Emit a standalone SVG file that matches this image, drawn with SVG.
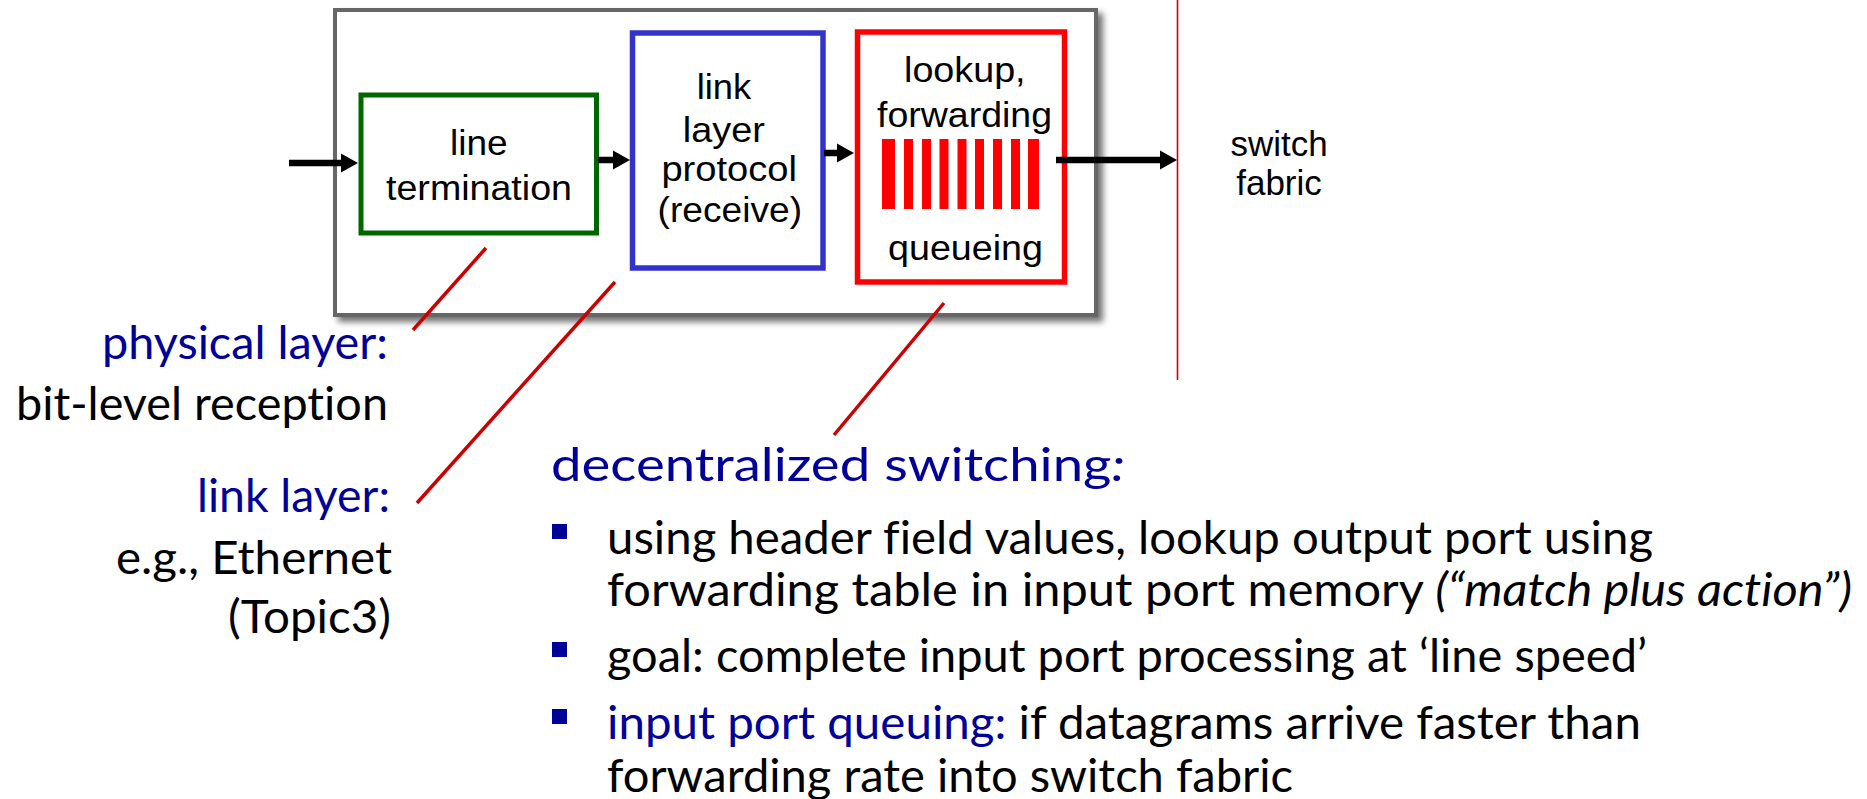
<svg xmlns="http://www.w3.org/2000/svg" width="1867" height="799" viewBox="0 0 1867 799">
  <style>
    .box { font-family: "Liberation Sans", Arial, sans-serif; font-size: 35px; fill: #000; }
    .cal { font-family: Lato, "Noto Sans", sans-serif; font-size: 47px; fill: #000; font-variant-ligatures: none; }
    .blue { fill: #000099; }
    .it { font-style: italic; }
    .leader { stroke: #cc0000; stroke-width: 3.5; fill: none; }
    .arrow { stroke: #000; stroke-width: 6.5; fill: none; marker-end: url(#ah); }
    .bar { fill: #ff0000; }
  </style>
  <defs>
    <marker id="ah" markerUnits="userSpaceOnUse" markerWidth="18" markerHeight="20" refX="1" refY="9.5" orient="auto" overflow="visible">
      <path d="M0,0 L17,9.5 L0,19 Z" fill="#000"/>
    </marker>
    <filter id="shadow" x="-5%" y="-5%" width="115%" height="120%">
      <feDropShadow dx="5" dy="5" stdDeviation="3" flood-color="#000" flood-opacity="0.55"/>
    </filter>
  </defs>
  <rect width="1867" height="799" fill="#fff"/>

  <g id="input-port">
    <rect x="335" y="10" width="761" height="305" fill="#fff" stroke="#666" stroke-width="4" filter="url(#shadow)"/>
  </g>

  <g id="line-termination">
    <rect x="361" y="95" width="235.5" height="138" fill="#fff" stroke="#006600" stroke-width="5"/>
    <text class="box" x="450" y="155" textLength="57.6" lengthAdjust="spacingAndGlyphs">line</text>
    <text class="box" x="386" y="200" textLength="186" lengthAdjust="spacingAndGlyphs">termination</text>
  </g>

  <g id="link-layer-protocol">
    <rect x="632.5" y="33" width="190.5" height="235" fill="#fff" stroke="#3333cc" stroke-width="5.5"/>
    <text class="box" x="696.7" y="99" textLength="54.6" lengthAdjust="spacingAndGlyphs">link</text>
    <text class="box" x="682.8" y="141.7" textLength="82" lengthAdjust="spacingAndGlyphs">layer</text>
    <text class="box" x="661.4" y="181" textLength="135.6" lengthAdjust="spacingAndGlyphs">protocol</text>
    <text class="box" x="657.6" y="221.7" textLength="144.4" lengthAdjust="spacingAndGlyphs">(receive)</text>
  </g>

  <g id="lookup-forwarding-queueing">
    <rect x="857.5" y="32" width="207" height="250" fill="#fff" stroke="#ff0000" stroke-width="5.5"/>
    <text class="box" x="904" y="81.7" textLength="121.6" lengthAdjust="spacingAndGlyphs">lookup,</text>
    <text class="box" x="877" y="126.7" textLength="175" lengthAdjust="spacingAndGlyphs">forwarding</text>
    <rect class="bar" x="882" y="139" width="13" height="70"/>
    <rect class="bar" x="904" y="139" width="9" height="70"/>
    <rect class="bar" x="922" y="139" width="9" height="70"/>
    <rect class="bar" x="939.5" y="139" width="9" height="70"/>
    <rect class="bar" x="957.5" y="139" width="9" height="70"/>
    <rect class="bar" x="975" y="139" width="9" height="70"/>
    <rect class="bar" x="993" y="139" width="9" height="70"/>
    <rect class="bar" x="1011" y="139" width="9" height="70"/>
    <rect class="bar" x="1028" y="139" width="11" height="70"/>
    <text class="box" x="888" y="260" textLength="155" lengthAdjust="spacingAndGlyphs">queueing</text>
  </g>

  <g id="switch-fabric">
    <line x1="1177.5" y1="0" x2="1177.5" y2="380" stroke="#cc0000" stroke-width="1.6"/>
    <text class="box" x="1279" y="156" text-anchor="middle" font-size="37" fill="#222">switch</text>
    <text class="box" x="1279" y="195" text-anchor="middle" font-size="37" fill="#222">fabric</text>
  </g>

  <g id="connectors">
    <line class="arrow" x1="289" y1="163" x2="342" y2="163"/>
    <line class="arrow" x1="598" y1="160" x2="614" y2="160"/>
    <line class="arrow" x1="824" y1="153" x2="838" y2="153"/>
    <line class="arrow" x1="1056" y1="160" x2="1161" y2="160"/>
    <line class="leader" x1="486" y1="248" x2="413" y2="330"/>
    <line class="leader" x1="615" y1="282" x2="417" y2="503"/>
    <line class="leader" x1="944" y1="303" x2="834" y2="435"/>
  </g>

  <g id="physical-layer-label">
    <text class="cal blue" x="102" y="359" textLength="286" lengthAdjust="spacingAndGlyphs">physical layer:</text>
    <text class="cal" x="16" y="420" textLength="372" lengthAdjust="spacingAndGlyphs">bit-level reception</text>
  </g>

  <g id="link-layer-label">
    <text class="cal blue" x="197" y="512" textLength="193" lengthAdjust="spacingAndGlyphs">link layer:</text>
    <text class="cal" x="116" y="574" textLength="276" lengthAdjust="spacingAndGlyphs">e.g., Ethernet</text>
    <text class="cal" x="228" y="633" textLength="163" lengthAdjust="spacingAndGlyphs">(Topic3)</text>
  </g>

  <g id="decentralized-switching">
    <text class="cal blue" x="551" y="481" font-size="56" textLength="574" lengthAdjust="spacingAndGlyphs">decentralized switching<tspan class="it">:</tspan></text>
    <rect x="552" y="524" width="15" height="15" fill="#000099"/>
    <text class="cal" x="607" y="554" textLength="1046" lengthAdjust="spacingAndGlyphs">using header field values, lookup output port using</text>
    <text class="cal" x="607" y="606" textLength="1245" lengthAdjust="spacingAndGlyphs">forwarding table in input port memory <tspan class="it">(“match plus action”)</tspan></text>
    <rect x="552" y="642" width="15" height="15" fill="#000099"/>
    <text class="cal" x="607" y="672" textLength="1040" lengthAdjust="spacingAndGlyphs">goal: complete input port processing at ‘line speed’</text>
    <rect x="552" y="709" width="15" height="15" fill="#000099"/>
    <text class="cal" x="607" y="739" textLength="1034" lengthAdjust="spacingAndGlyphs"><tspan class="blue">input port queuing:</tspan> if datagrams arrive faster than</text>
    <text class="cal" x="607" y="792" textLength="686" lengthAdjust="spacingAndGlyphs">forwarding rate into switch fabric</text>
  </g>
</svg>
